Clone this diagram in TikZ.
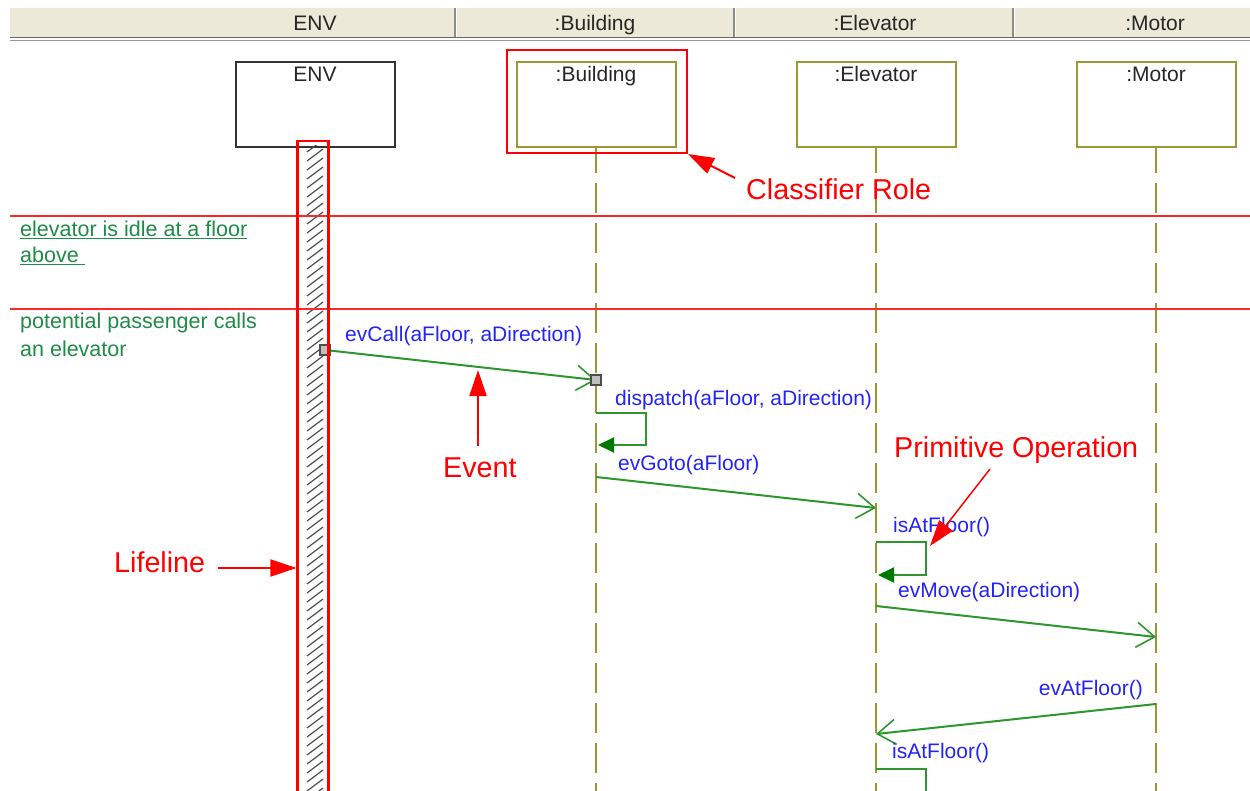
\documentclass[tikz,border=0pt]{standalone}
\usepackage{fontspec}
\setmainfont{Liberation Sans}
\usetikzlibrary{arrows.meta}
\definecolor{lifeolive}{RGB}{153,153,51}
\definecolor{msggreen}{RGB}{45,150,45}
\definecolor{tipgreen}{RGB}{0,120,0}
\definecolor{msgblue}{RGB}{35,35,245}
\definecolor{notegreen}{RGB}{30,140,70}
\definecolor{barbg}{RGB}{236,233,216}
\definecolor{markred}{RGB}{255,0,0}
\begin{document}
\begin{tikzpicture}[x=1pt,y=-1pt,
  txt/.style={inner sep=0pt,anchor=base west},
  hdtxt/.style={inner sep=0pt,anchor=base,text=black!85,font=\fontsize{21}{25}\selectfont},
  head/.style={draw=lifeolive,line width=2pt,minimum width=159pt,minimum height=85pt,anchor=north,inner sep=0pt},
  lifeline/.style={draw=lifeolive,line width=2.4pt,dash pattern=on 30pt off 10pt,dash phase=5pt},
  msg/.style={draw=msggreen,line width=2pt,-{Straight Barb[length=18pt,width=25pt,line width=1.6pt]}},
  selfmsg/.style={draw=msggreen,line width=2pt,-{Triangle[length=16pt,width=15pt,color=tipgreen]}},
  port/.style={draw=black!70,fill=black!25,line width=1.4pt,minimum size=10pt,inner sep=0pt},
  lbl/.style={txt,text=msgblue,font=\fontsize{21}{25}\selectfont},
  note/.style={txt,text=notegreen,font=\fontsize{21.5}{26}\selectfont},
  redtxt/.style={txt,text=markred,font=\fontsize{28.7}{32}\selectfont},
  callout/.style={draw=markred,line width=2pt,-{Triangle[length=26pt,width=17pt]}},
  hatch/.style={draw=black!70,line width=1.2pt}]
  \useasboundingbox (0,0) rectangle (1250,791);
  \coordinate (bot) at (0,800);
  % column header bar
  \fill[barbg] (10,8) rectangle (1250,37);
  \draw[black!60,line width=1.6pt] (10,37.5)--(1250,37.5); \draw[black!40,line width=1.6pt] (10,40.5)--(1250,40.5);
  \foreach \sx in {455,734,1013} {\draw[black!45,line width=1.8pt] (\sx,8)--(\sx,37); \draw[white,line width=1pt] (\sx+1.8,8)--(\sx+1.8,37);}
  \node[hdtxt] (hd-env) at (315,31) {ENV};
  \node[hdtxt] (hd-bldg) at (595,31) {:Building};
  \node[hdtxt] (hd-elev) at (875,31) {:Elevator};
  \node[hdtxt] (hd-motor) at (1155,31) {:Motor};
  % classifier roles
  \node[head,draw=black!80] (env) at (315.5,61) {}; \node[hdtxt] at (315,82) {ENV};
  \node[head] (bldg) at (596,61) {}; \node[hdtxt] at (596,82) {:Building};
  \node[head] (elev) at (876,61) {}; \node[hdtxt] at (876,82) {:Elevator};
  \node[head] (motor) at (1156,61) {}; \node[hdtxt] at (1156,82) {:Motor};
  \foreach \n in {bldg,elev,motor} \draw[lifeline] (\n.south)--(\n.south |- bot);
  % hatched ENV lifeline
  \begin{scope}
    \clip (303,146) rectangle (327,800);
    \foreach \y in {146,155,...,810} \draw[hatch] (307,\y+6)--(323,\y-6);
  \end{scope}
  % scenario separators and notes
  \draw[markred!85,line width=1.5pt] (10,216)--(1250,216); \draw[markred!85,line width=1.5pt] (10,309)--(1250,309);
  \node[note] (idle1) at (20,237) {\underline{elevator is idle at a floor}};
  \node[note] (idle2) at (20,263) {\underline{above\ }};
  \node[note] (calls1) at (20,329) {potential passenger calls};
  \node[note] (calls2) at (20,356) {an elevator};
  % messages
  \coordinate (call-a) at (325,350); \coordinate (call-b) at (bldg.center |- 0,380);
  \draw[msg] (call-a)--(call-b);
  \node[port] at (call-a) {}; \node[port] at (call-b) {};
  \node[lbl] (l-call) at (345,342) {evCall(aFloor, aDirection)};
  \coordinate (disp-a) at (bldg.center |- 0,413); \coordinate (disp-c) at (646,445); \coordinate (disp-b) at (598,445);
  \draw[selfmsg] (disp-a) -| (disp-c)--(disp-b);
  \node[lbl] (l-disp) at (615,405) {dispatch(aFloor, aDirection)};
  \coordinate (goto-a) at (bldg.center |- 0,477); \coordinate (goto-b) at (elev.center |- 0,508);
  \draw[msg] (goto-a)--(goto-b);
  \node[lbl] (l-goto) at (618,470) {evGoto(aFloor)};
  \coordinate (isat-a) at (elev.center |- 0,542); \coordinate (isat-c) at (926,575); \coordinate (isat-b) at (878,575);
  \draw[selfmsg] (isat-a) -| (isat-c)--(isat-b);
  \node[lbl] (l-isat) at (893,532) {isAtFloor()};
  \coordinate (move-a) at (elev.center |- 0,606); \coordinate (move-b) at (motor.center |- 0,637);
  \draw[msg] (move-a)--(move-b);
  \node[lbl] (l-move) at (898,597) {evMove(aDirection)};
  \coordinate (atfl-a) at (motor.center |- 0,704); \coordinate (atfl-b) at (elev.center |- 0,734);
  \draw[msg] (atfl-a)--(atfl-b);
  \node[lbl,anchor=base east] (l-atfl) at (1143,695) {evAtFloor()};
  \coordinate (isat2-a) at (elev.center |- 0,769); \coordinate (isat2-c) at (926,800);
  \draw[draw=msggreen,line width=2pt] (isat2-a) -| (isat2-c);
  \node[lbl] (l-isat2) at (892,758) {isAtFloor()};
  % annotations
  \node[draw=markred,line width=2pt,minimum width=180pt,minimum height=103pt,inner sep=0pt] (role) at (597,101.5) {};
  \node[draw=markred,line width=2.2pt,minimum width=31pt,minimum height=670pt,anchor=north,inner sep=0pt] (lane) at (313,140) {};
  \node[redtxt] (t-role) at (746,200) {Classifier Role};
  \draw[callout] (735,178)--(role.south east);
  \node[redtxt] (t-event) at (443,477) {Event};
  \draw[callout] (478,446)--(478,370);
  \node[redtxt] (t-prim) at (894,457) {Primitive Operation};
  \draw[callout,line width=1.5pt] (990,469)--(930,546);
  \node[redtxt] (t-life) at (114,572) {Lifeline};
  \draw[callout] (218,568)--(lane.west |- 0,568);
\end{tikzpicture}
\end{document}
